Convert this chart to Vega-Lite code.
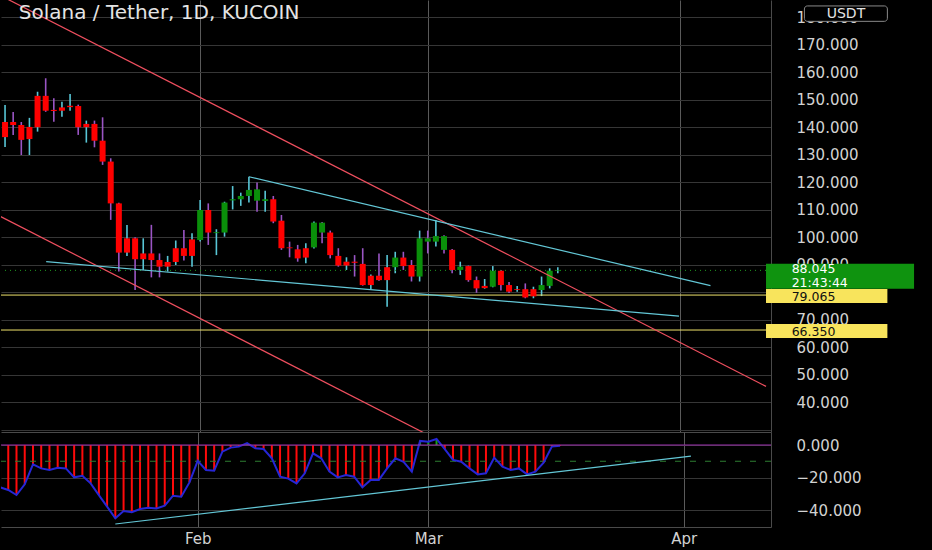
{
  "$schema": "https://vega.github.io/schema/vega-lite/v6.json",
  "background": "#000000",
  "padding": 0,
  "spacing": 0,
  "config": {
    "view": {"stroke": null},
    "axis": {"labelFont": "DejaVu Sans", "labelColor": "#d2d2d2", "labelFontSize": 15, "labelOverlap": false},
    "axisY": {"labelOverlap": false},
    "axisQuantitative": {"labelOverlap": false},
    "text": {"font": "DejaVu Sans"}
  },
  "resolve": {"scale": {"x": "independent", "y": "independent"}},
  "datasets": {
    "candles": [
      {"date":"2022-01-08","open":136.5,"high":148.2,"low":132.9,"close":142.0,"trend":"bear","osc":-26.0},
      {"date":"2022-01-09","open":142.0,"high":145.6,"low":137.3,"close":140.9,"trend":"bear","osc":-27.7},
      {"date":"2022-01-10","open":140.9,"high":142.0,"low":130.0,"close":135.5,"trend":"bear","osc":-30.8},
      {"date":"2022-01-11","open":135.8,"high":143.5,"low":130.0,"close":140.2,"trend":"bear","osc":-24.2},
      {"date":"2022-01-12","open":140.1,"high":153.0,"low":138.5,"close":151.5,"trend":"bear","osc":-11.9},
      {"date":"2022-01-13","open":151.5,"high":157.9,"low":145.7,"close":146.1,"trend":"bear","osc":-14.4},
      {"date":"2022-01-14","open":146.4,"high":150.6,"low":142.1,"close":146.0,"trend":"bear","osc":-15.4},
      {"date":"2022-01-15","open":146.1,"high":149.4,"low":143.9,"close":147.3,"trend":"bear","osc":-14.0},
      {"date":"2022-01-16","open":147.4,"high":152.2,"low":146.1,"close":147.9,"trend":"bear","osc":-14.4},
      {"date":"2022-01-17","open":147.8,"high":148.3,"low":137.3,"close":140.1,"trend":"bear","osc":-19.9},
      {"date":"2022-01-18","open":140.1,"high":142.5,"low":134.5,"close":141.3,"trend":"bear","osc":-18.9},
      {"date":"2022-01-19","open":141.3,"high":142.5,"low":132.8,"close":135.2,"trend":"bear","osc":-23.6},
      {"date":"2022-01-20","open":135.2,"high":143.7,"low":126.4,"close":127.6,"trend":"bear","osc":-30.8},
      {"date":"2022-01-21","open":127.6,"high":128.8,"low":106.4,"close":112.4,"trend":"bear","osc":-37.9},
      {"date":"2022-01-22","open":112.4,"high":112.6,"low":87.6,"close":94.5,"trend":"bear","osc":-45.1},
      {"date":"2022-01-23","open":94.5,"high":104.5,"low":93.3,"close":99.7,"trend":"bear","osc":-40.6},
      {"date":"2022-01-24","open":99.7,"high":100.1,"low":80.9,"close":92.1,"trend":"bear","osc":-41.4},
      {"date":"2022-01-25","open":92.1,"high":99.7,"low":88.2,"close":94.2,"trend":"bear","osc":-39.4},
      {"date":"2022-01-26","open":94.2,"high":104.6,"low":85.5,"close":91.8,"trend":"bear","osc":-38.6},
      {"date":"2022-01-27","open":91.8,"high":94.2,"low":85.5,"close":89.4,"trend":"bear","osc":-39.0},
      {"date":"2022-01-28","open":89.4,"high":93.3,"low":87.6,"close":91.1,"trend":"bear","osc":-37.3},
      {"date":"2022-01-29","open":91.1,"high":98.9,"low":90.0,"close":96.1,"trend":"bear","osc":-31.2},
      {"date":"2022-01-30","open":96.1,"high":102.7,"low":91.6,"close":93.3,"trend":"bear","osc":-31.8},
      {"date":"2022-01-31","open":93.3,"high":101.5,"low":89.4,"close":99.3,"trend":"bear","osc":-23.0},
      {"date":"2022-02-01","open":99.1,"high":113.6,"low":98.5,"close":110.0,"trend":"bull","osc":-9.8},
      {"date":"2022-02-02","open":110.0,"high":112.4,"low":97.3,"close":101.8,"trend":"bear","osc":-15.4},
      {"date":"2022-02-03","open":101.6,"high":103.0,"low":93.6,"close":101.9,"trend":"bull","osc":-15.8},
      {"date":"2022-02-04","open":101.8,"high":113.0,"low":100.3,"close":112.7,"trend":"bull","osc":-4.1},
      {"date":"2022-02-05","open":113.5,"high":118.7,"low":110.2,"close":113.9,"trend":"bull","osc":-1.6},
      {"date":"2022-02-06","open":113.9,"high":116.3,"low":111.5,"close":115.1,"trend":"bull","osc":-1.0},
      {"date":"2022-02-07","open":115.1,"high":122.1,"low":112.7,"close":117.3,"trend":"bull","osc":1.2},
      {"date":"2022-02-08","open":117.5,"high":120.0,"low":109.4,"close":113.4,"trend":"bull","osc":-2.0},
      {"date":"2022-02-09","open":113.3,"high":117.0,"low":109.4,"close":113.9,"trend":"bull","osc":-2.5},
      {"date":"2022-02-10","open":113.9,"high":115.1,"low":105.2,"close":105.8,"trend":"bear","osc":-8.2},
      {"date":"2022-02-11","open":106.1,"high":108.2,"low":95.5,"close":96.1,"trend":"bear","osc":-19.5},
      {"date":"2022-02-12","open":96.4,"high":98.5,"low":92.8,"close":96.1,"trend":"bear","osc":-20.7},
      {"date":"2022-02-13","open":95.7,"high":97.3,"low":91.2,"close":92.4,"trend":"bear","osc":-23.6},
      {"date":"2022-02-14","open":92.7,"high":97.9,"low":90.6,"close":96.1,"trend":"bear","osc":-17.4},
      {"date":"2022-02-15","open":96.4,"high":105.8,"low":96.0,"close":105.4,"trend":"bull","osc":-5.1},
      {"date":"2022-02-16","open":105.4,"high":105.6,"low":97.9,"close":101.8,"trend":"bull","osc":-8.2},
      {"date":"2022-02-17","open":101.8,"high":102.5,"low":92.4,"close":93.6,"trend":"bear","osc":-16.4},
      {"date":"2022-02-18","open":93.3,"high":96.1,"low":89.4,"close":89.8,"trend":"bear","osc":-19.9},
      {"date":"2022-02-19","open":89.8,"high":92.8,"low":88.2,"close":91.2,"trend":"bear","osc":-18.5},
      {"date":"2022-02-20","open":91.2,"high":93.6,"low":85.8,"close":90.8,"trend":"bear","osc":-19.5},
      {"date":"2022-02-21","open":90.4,"high":96.1,"low":82.5,"close":82.7,"trend":"bear","osc":-26.0},
      {"date":"2022-02-22","open":82.7,"high":86.5,"low":81.2,"close":86.1,"trend":"bear","osc":-21.5},
      {"date":"2022-02-23","open":86.1,"high":94.2,"low":84.3,"close":84.5,"trend":"bear","osc":-21.5},
      {"date":"2022-02-24","open":84.5,"high":93.6,"low":74.8,"close":89.2,"trend":"bear","osc":-14.4},
      {"date":"2022-02-25","open":89.2,"high":94.8,"low":87.0,"close":92.7,"trend":"bull","osc":-8.2},
      {"date":"2022-02-26","open":92.7,"high":94.8,"low":88.2,"close":89.6,"trend":"bear","osc":-10.3},
      {"date":"2022-02-27","open":90.0,"high":91.8,"low":84.0,"close":85.8,"trend":"bear","osc":-16.4},
      {"date":"2022-02-28","open":85.8,"high":102.5,"low":84.0,"close":99.7,"trend":"bull","osc":2.5},
      {"date":"2022-03-01","open":99.7,"high":102.5,"low":94.2,"close":98.5,"trend":"bull","osc":2.0},
      {"date":"2022-03-02","open":98.5,"high":106.4,"low":96.7,"close":100.5,"trend":"bull","osc":3.7},
      {"date":"2022-03-03","open":100.5,"high":100.8,"low":94.2,"close":95.5,"trend":"bull","osc":-2.5},
      {"date":"2022-03-04","open":95.5,"high":95.8,"low":87.0,"close":88.2,"trend":"bear","osc":-9.2},
      {"date":"2022-03-05","open":88.2,"high":91.2,"low":86.4,"close":89.4,"trend":"bull","osc":-10.3},
      {"date":"2022-03-06","open":89.6,"high":89.8,"low":83.9,"close":84.5,"trend":"bear","osc":-14.4},
      {"date":"2022-03-07","open":84.5,"high":85.8,"low":79.9,"close":81.5,"trend":"bear","osc":-18.1},
      {"date":"2022-03-08","open":81.6,"high":84.9,"low":81.4,"close":82.4,"trend":"bear","osc":-17.4},
      {"date":"2022-03-09","open":82.1,"high":89.6,"low":81.9,"close":87.9,"trend":"bull","osc":-7.8},
      {"date":"2022-03-10","open":87.9,"high":88.2,"low":80.7,"close":82.7,"trend":"bear","osc":-13.3},
      {"date":"2022-03-11","open":82.7,"high":83.8,"low":79.8,"close":80.3,"trend":"bear","osc":-15.4},
      {"date":"2022-03-12","open":80.9,"high":82.4,"low":80.3,"close":81.2,"trend":"bear","osc":-14.4},
      {"date":"2022-03-13","open":81.2,"high":83.3,"low":77.9,"close":78.2,"trend":"bear","osc":-18.1},
      {"date":"2022-03-14","open":78.6,"high":82.1,"low":77.9,"close":81.2,"trend":"bear","osc":-16.4},
      {"date":"2022-03-15","open":80.9,"high":85.8,"low":78.7,"close":82.7,"trend":"bull","osc":-10.9},
      {"date":"2022-03-16","open":82.4,"high":88.8,"low":81.5,"close":87.9,"trend":"bull","osc":-1.0},
      {"date":"2022-03-17","open":87.8,"high":89.2,"low":87.0,"close":88.045,"trend":"bull","osc":-0.4}
    ],
    "levels": [
      {"level": 88.045, "kind": "last", "note": "21:43:44"},
      {"level": 79.065, "kind": "support"},
      {"level": 66.35, "kind": "support"}
    ],
    "lines": [
      {"id": "channel-top", "kind": "channel", "date": "2022-01-06T00:00:00Z", "price": 190.15},
      {"id": "channel-top", "kind": "channel", "date": "2022-04-11T14:40:00Z", "price": 45.85},
      {"id": "channel-bottom", "kind": "channel", "date": "2022-01-06T00:00:00Z", "price": 109.8},
      {"id": "channel-bottom", "kind": "channel", "date": "2022-03-02T12:00:00Z", "price": 26.0},
      {"id": "wedge-top", "kind": "wedge", "date": "2022-02-07T00:00:00Z", "price": 122.1},
      {"id": "wedge-top", "kind": "wedge", "date": "2022-04-04T18:45:00Z", "price": 82.5},
      {"id": "wedge-bottom", "kind": "wedge", "date": "2022-01-13T01:30:00Z", "price": 91.2},
      {"id": "wedge-bottom", "kind": "wedge", "date": "2022-03-31T21:50:00Z", "price": 71.4}
    ],
    "oscLevels": [
      {"v": 0, "kind": "zero"},
      {"v": -10, "kind": "signal"}
    ],
    "oscTrend": [
      {"id": "osc-support", "date": "2022-01-22T00:00:00Z", "value": -48.6},
      {"id": "osc-support", "date": "2022-04-01T21:20:00Z", "value": -6.8}
    ],
    "meta": [{"quote": "USDT", "title": "Solana / Tether, 1D, KUCOIN"}]
  },
  "vconcat": [
    {
      "width": 770,
      "height": 432,
      "layer": [
        {
          "data": {"name": "candles"},
          "mark": {"type": "rule", "strokeWidth": 1.6, "clip": true},
          "encoding": {
            "x": {"field": "date", "type": "temporal",
                  "scale": {"type": "utc", "domain": [{"year":2022,"month":1,"date":8,"hours":2,"minutes":50,"utc":true},{"year":2022,"month":4,"date":11,"hours":14,"minutes":38,"utc":true}]},
                  "axis": {"values": [{"year":2022,"month":2,"date":1,"utc":true},{"year":2022,"month":3,"date":1,"utc":true},{"year":2022,"month":4,"date":1,"utc":true}], "labels": false, "ticks": false, "domain": true, "domainColor": "#4a4a4a", "grid": true, "gridColor": "#5a5a5a", "title": null}},
            "y": {"field": "low", "type": "quantitative",
                  "scale": {"domain": [29.27, 186.36], "nice": false, "zero": false},
                  "axis": {"orient": "right", "tickCount": 16, "format": ".3f", "labelExpr": "(datum.value < 35 || datum.value == 80) ? '' : datum.label", "labelOverlap": false, "labelSeparation": 0, "labelBound": false, "labelFlush": 6, "labelAlign": "left", "labelPadding": 25, "ticks": false, "domain": true, "domainColor": "#4a4a4a", "grid": true, "gridColor": "#363636", "title": null, "minExtent": 162, "maxExtent": 162}},
            "y2": {"field": "high"},
            "color": {"condition": {"test": "datum.close >= datum.open", "value": "#58c6d6"}, "value": "#9a55c4"}
          }
        },
        {
          "data": {"name": "levels"},
          "transform": [{"filter": "datum.kind == 'support'"}],
          "mark": {"type": "rule", "color": "#efe36a", "strokeWidth": 1},
          "encoding": {
            "y": {"field": "level", "type": "quantitative", "scale": {"domain": [29.27, 186.36], "nice": false, "zero": false}}
          }
        },
        {
          "data": {"name": "levels"},
          "transform": [{"filter": "datum.kind == 'last'"}],
          "mark": {"type": "rule", "color": "#1f9a1f", "strokeWidth": 1, "strokeDash": [1, 4]},
          "encoding": {
            "y": {"field": "level", "type": "quantitative", "scale": {"domain": [29.27, 186.36], "nice": false, "zero": false}}
          }
        },
        {
          "data": {"name": "candles"},
          "mark": {"type": "bar", "width": 6, "clip": true},
          "encoding": {
            "x": {"field": "date", "type": "temporal", "scale": {"type": "utc", "domain": [{"year":2022,"month":1,"date":8,"hours":2,"minutes":50,"utc":true},{"year":2022,"month":4,"date":11,"hours":14,"minutes":38,"utc":true}]}},
            "y": {"field": "open", "type": "quantitative", "scale": {"domain": [29.27, 186.36], "nice": false, "zero": false}},
            "y2": {"field": "close"},
            "color": {"condition": {"test": "datum.trend == 'bull'", "value": "#0a8f0a"}, "value": "#ff0000"}
          }
        },
        {
          "data": {"name": "lines"},
          "transform": [{"filter": "datum.kind == 'channel'"}],
          "mark": {"type": "line", "color": "#ef4f5f", "strokeWidth": 1.2, "clip": true},
          "encoding": {
            "x": {"field": "date", "type": "temporal", "scale": {"type": "utc", "domain": [{"year":2022,"month":1,"date":8,"hours":2,"minutes":50,"utc":true},{"year":2022,"month":4,"date":11,"hours":14,"minutes":38,"utc":true}]}},
            "y": {"field": "price", "type": "quantitative", "scale": {"domain": [29.27, 186.36], "nice": false, "zero": false}},
            "detail": {"field": "id"}
          }
        },
        {
          "data": {"name": "lines"},
          "transform": [{"filter": "datum.kind == 'wedge'"}],
          "mark": {"type": "line", "color": "#63c7d6", "strokeWidth": 1.2, "clip": true},
          "encoding": {
            "x": {"field": "date", "type": "temporal", "scale": {"type": "utc", "domain": [{"year":2022,"month":1,"date":8,"hours":2,"minutes":50,"utc":true},{"year":2022,"month":4,"date":11,"hours":14,"minutes":38,"utc":true}]}},
            "y": {"field": "price", "type": "quantitative", "scale": {"domain": [29.27, 186.36], "nice": false, "zero": false}},
            "detail": {"field": "id"}
          }
        },
        {
          "data": {"name": "meta"},
          "mark": {"type": "text", "align": "left", "baseline": "middle", "fontSize": 20, "color": "#e4e4e4"},
          "encoding": {
            "x": {"datum": {"year":2022,"month":1,"date":9,"hours":16,"minutes":40,"utc":true}, "type": "temporal", "scale": {"type": "utc", "domain": [{"year":2022,"month":1,"date":8,"hours":2,"minutes":50,"utc":true},{"year":2022,"month":4,"date":11,"hours":14,"minutes":38,"utc":true}]}},
            "y": {"datum": 181.6, "type": "quantitative", "scale": {"domain": [29.27, 186.36], "nice": false, "zero": false}},
            "text": {"field": "title"}
          }
        },
        {
          "data": {"name": "levels"},
          "transform": [{"filter": "datum.kind == 'support'"}],
          "mark": {"type": "rule", "color": "#f8e45c", "strokeWidth": 14, "strokeCap": "butt", "yOffset": 1},
          "encoding": {
            "x": {"datum": {"year":2022,"month":4,"date":11,"hours":14,"minutes":40,"utc":true}, "type": "temporal", "scale": {"type": "utc", "domain": [{"year":2022,"month":1,"date":8,"hours":2,"minutes":50,"utc":true},{"year":2022,"month":4,"date":11,"hours":14,"minutes":38,"utc":true}]}},
            "x2": {"datum": {"year":2022,"month":4,"date":26,"hours":13,"utc":true}},
            "y": {"field": "level", "type": "quantitative", "scale": {"domain": [29.27, 186.36], "nice": false, "zero": false}}
          }
        },
        {
          "data": {"name": "levels"},
          "transform": [{"filter": "datum.kind == 'last'"}],
          "mark": {"type": "rule", "color": "#0f930f", "strokeWidth": 25, "strokeCap": "butt", "yOffset": 6},
          "encoding": {
            "x": {"datum": {"year":2022,"month":4,"date":11,"hours":14,"minutes":40,"utc":true}, "type": "temporal", "scale": {"type": "utc", "domain": [{"year":2022,"month":1,"date":8,"hours":2,"minutes":50,"utc":true},{"year":2022,"month":4,"date":11,"hours":14,"minutes":38,"utc":true}]}},
            "x2": {"datum": {"year":2022,"month":4,"date":29,"hours":19,"minutes":45,"utc":true}},
            "y": {"field": "level", "type": "quantitative", "scale": {"domain": [29.27, 186.36], "nice": false, "zero": false}}
          }
        },
        {
          "data": {"name": "levels"},
          "transform": [{"filter": "datum.kind == 'support'"}],
          "mark": {"type": "text", "align": "left", "baseline": "middle", "fontSize": 12.5, "yOffset": 1.5, "color": "#111111"},
          "encoding": {
            "x": {"datum": {"year":2022,"month":4,"date":14,"hours":18,"minutes":25,"utc":true}, "type": "temporal", "scale": {"type": "utc", "domain": [{"year":2022,"month":1,"date":8,"hours":2,"minutes":50,"utc":true},{"year":2022,"month":4,"date":11,"hours":14,"minutes":38,"utc":true}]}},
            "y": {"field": "level", "type": "quantitative", "scale": {"domain": [29.27, 186.36], "nice": false, "zero": false}},
            "text": {"field": "level", "type": "quantitative", "format": ".3f"}
          }
        },
        {
          "data": {"name": "levels"},
          "transform": [{"filter": "datum.kind == 'last'"}],
          "mark": {"type": "text", "align": "left", "baseline": "middle", "fontSize": 12.5, "yOffset": -1, "color": "#ffffff"},
          "encoding": {
            "x": {"datum": {"year":2022,"month":4,"date":14,"hours":18,"minutes":25,"utc":true}, "type": "temporal", "scale": {"type": "utc", "domain": [{"year":2022,"month":1,"date":8,"hours":2,"minutes":50,"utc":true},{"year":2022,"month":4,"date":11,"hours":14,"minutes":38,"utc":true}]}},
            "y": {"field": "level", "type": "quantitative", "scale": {"domain": [29.27, 186.36], "nice": false, "zero": false}},
            "text": {"field": "level", "type": "quantitative", "format": ".3f"}
          }
        },
        {
          "data": {"name": "levels"},
          "transform": [{"filter": "datum.kind == 'last'"}],
          "mark": {"type": "text", "align": "left", "baseline": "middle", "fontSize": 12.5, "yOffset": 12.5, "color": "#ffffff"},
          "encoding": {
            "x": {"datum": {"year":2022,"month":4,"date":14,"hours":18,"minutes":25,"utc":true}, "type": "temporal", "scale": {"type": "utc", "domain": [{"year":2022,"month":1,"date":8,"hours":2,"minutes":50,"utc":true},{"year":2022,"month":4,"date":11,"hours":14,"minutes":38,"utc":true}]}},
            "y": {"field": "level", "type": "quantitative", "scale": {"domain": [29.27, 186.36], "nice": false, "zero": false}},
            "text": {"field": "note"}
          }
        },
        {
          "data": {"name": "meta"},
          "mark": {"type": "rect", "fill": "#000000", "stroke": "#8a8a8a", "strokeWidth": 1, "cornerRadius": 3},
          "encoding": {
            "x": {"datum": {"year":2022,"month":4,"date":16,"hours":8,"utc":true}, "type": "temporal", "scale": {"type": "utc", "domain": [{"year":2022,"month":1,"date":8,"hours":2,"minutes":50,"utc":true},{"year":2022,"month":4,"date":11,"hours":14,"minutes":38,"utc":true}]}},
            "x2": {"datum": {"year":2022,"month":4,"date":26,"hours":13,"utc":true}},
            "y": {"datum": 184.2, "type": "quantitative", "scale": {"domain": [29.27, 186.36], "nice": false, "zero": false}},
            "y2": {"datum": 178.6}
          }
        },
        {
          "data": {"name": "meta"},
          "mark": {"type": "text", "align": "center", "baseline": "middle", "fontSize": 14, "color": "#e4e4e4"},
          "encoding": {
            "x": {"datum": {"year":2022,"month":4,"date":21,"hours":10,"minutes":40,"utc":true}, "type": "temporal", "scale": {"type": "utc", "domain": [{"year":2022,"month":1,"date":8,"hours":2,"minutes":50,"utc":true},{"year":2022,"month":4,"date":11,"hours":14,"minutes":38,"utc":true}]}},
            "y": {"datum": 181.4, "type": "quantitative", "scale": {"domain": [29.27, 186.36], "nice": false, "zero": false}},
            "text": {"field": "quote"}
          }
        }
      ]
    },
    {
      "width": 770,
      "height": 95,
      "layer": [
        {
          "data": {"name": "candles"},
          "mark": {"type": "rule", "strokeWidth": 2, "clip": true},
          "encoding": {
            "x": {"field": "date", "type": "temporal",
                  "scale": {"type": "utc", "domain": [{"year":2022,"month":1,"date":8,"hours":2,"minutes":50,"utc":true},{"year":2022,"month":4,"date":11,"hours":14,"minutes":38,"utc":true}]},
                  "axis": {"values": [{"year":2022,"month":2,"date":1,"utc":true},{"year":2022,"month":3,"date":1,"utc":true},{"year":2022,"month":4,"date":1,"utc":true}], "format": "%b", "labelPadding": 4, "ticks": false, "domain": true, "domainColor": "#4a4a4a", "grid": true, "gridColor": "#5a5a5a", "title": null, "minExtent": 23, "maxExtent": 23}},
            "y": {"field": "osc", "type": "quantitative",
                  "scale": {"domain": [-50.46, 8.0], "nice": false, "zero": false},
                  "axis": {"orient": "right", "values": [-40, -20, 0], "format": ".3f", "labelOverlap": false, "labelAlign": "left", "labelPadding": 25, "ticks": false, "domain": true, "domainColor": "#4a4a4a", "grid": true, "gridColor": "#363636", "title": null, "minExtent": 162, "maxExtent": 162}},
            "y2": {"datum": 0},
            "color": {"condition": {"test": "datum.osc >= 0", "value": "#16a316"}, "value": "#ff0a0a"}
          }
        },
        {
          "data": {"name": "oscLevels"},
          "transform": [{"filter": "datum.kind == 'signal'"}],
          "mark": {"type": "rule", "color": "#2e7d32", "strokeWidth": 1, "strokeDash": [6, 9]},
          "encoding": {
            "y": {"field": "v", "type": "quantitative", "scale": {"domain": [-50.46, 8.0], "nice": false, "zero": false}}
          }
        },
        {
          "data": {"name": "candles"},
          "mark": {"type": "line", "color": "#2626d6", "strokeWidth": 2, "clip": true},
          "encoding": {
            "x": {"field": "date", "type": "temporal", "scale": {"type": "utc", "domain": [{"year":2022,"month":1,"date":8,"hours":2,"minutes":50,"utc":true},{"year":2022,"month":4,"date":11,"hours":14,"minutes":38,"utc":true}]}},
            "y": {"field": "osc", "type": "quantitative", "scale": {"domain": [-50.46, 8.0], "nice": false, "zero": false}}
          }
        },
        {
          "data": {"name": "oscLevels"},
          "transform": [{"filter": "datum.kind == 'zero'"}],
          "mark": {"type": "rule", "color": "#9b2fae", "strokeWidth": 1.2},
          "encoding": {
            "y": {"field": "v", "type": "quantitative", "scale": {"domain": [-50.46, 8.0], "nice": false, "zero": false}}
          }
        },
        {
          "data": {"name": "oscTrend"},
          "mark": {"type": "line", "color": "#63c7d6", "strokeWidth": 1.2, "clip": true},
          "encoding": {
            "x": {"field": "date", "type": "temporal", "scale": {"type": "utc", "domain": [{"year":2022,"month":1,"date":8,"hours":2,"minutes":50,"utc":true},{"year":2022,"month":4,"date":11,"hours":14,"minutes":38,"utc":true}]}},
            "y": {"field": "value", "type": "quantitative", "scale": {"domain": [-50.46, 8.0], "nice": false, "zero": false}}
          }
        }
      ]
    }
  ]
}
